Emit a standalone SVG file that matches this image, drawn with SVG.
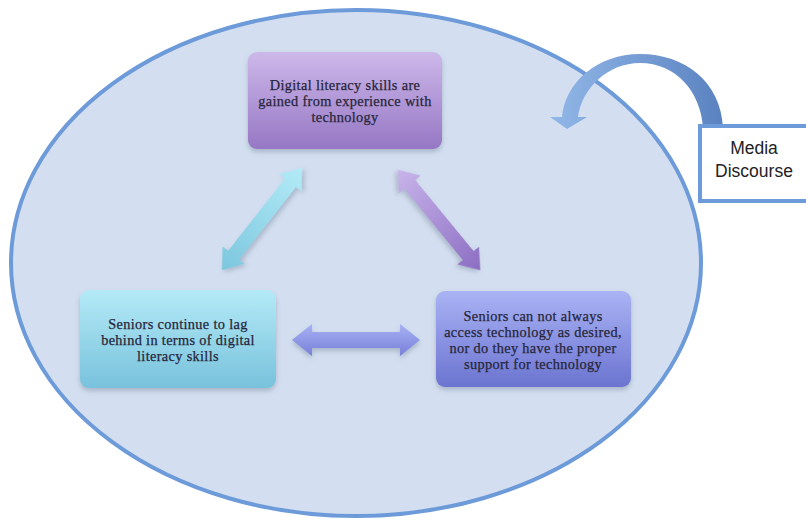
<svg xmlns="http://www.w3.org/2000/svg" width="806" height="521" viewBox="0 0 806 521">
  <defs>
    <linearGradient id="gTop" x1="0" y1="0" x2="0" y2="1">
      <stop offset="0" stop-color="#cdb8ea"/>
      <stop offset="1" stop-color="#9677c4"/>
    </linearGradient>
    <linearGradient id="gLeft" x1="0" y1="0" x2="0" y2="1">
      <stop offset="0" stop-color="#b4eaf7"/>
      <stop offset="1" stop-color="#78c2dc"/>
    </linearGradient>
    <linearGradient id="gRight" x1="0" y1="0" x2="0" y2="1">
      <stop offset="0" stop-color="#aab3f4"/>
      <stop offset="1" stop-color="#6b74d0"/>
    </linearGradient>
    <linearGradient id="gCyanArrow" x1="0" y1="0" x2="1" y2="0">
      <stop offset="0" stop-color="#7cc6de"/>
      <stop offset="1" stop-color="#b3ebf7"/>
    </linearGradient>
    <linearGradient id="gPurpleArrow" x1="0" y1="0" x2="1" y2="0">
      <stop offset="0" stop-color="#c8b4ea"/>
      <stop offset="1" stop-color="#8c6ec2"/>
    </linearGradient>
    <linearGradient id="gHArrow" x1="0" y1="0" x2="0" y2="1">
      <stop offset="0" stop-color="#a9b1f4"/>
      <stop offset="1" stop-color="#7680d8"/>
    </linearGradient>
    <linearGradient id="gCurve" x1="0" y1="0" x2="1" y2="0">
      <stop offset="0" stop-color="#92b8e8"/>
      <stop offset="1" stop-color="#5a82c0"/>
    </linearGradient>
    <filter id="shadow" x="-10%" y="-10%" width="120%" height="130%">
      <feDropShadow dx="0" dy="3" stdDeviation="2.5" flood-color="#5a6680" flood-opacity="0.35"/>
    </filter>
  </defs>
  <style>
    .node-text { font-family: "Liberation Serif", "DejaVu Serif", serif; font-size: 14.3px; letter-spacing: 0.35px; fill: #26263a; stroke: #26263a; stroke-width: 0.25; text-anchor: middle; }
    .media-text { font-family: "Liberation Sans", "DejaVu Sans", sans-serif; font-size: 17.5px; fill: #222222; text-anchor: middle; }
    .box { filter: url(#shadow); }
  </style>
  <rect width="806" height="521" fill="#ffffff"/>

  <g id="context">
    <ellipse cx="356" cy="263" rx="345" ry="253" fill="#d3dff0" stroke="#6d9ad8" stroke-width="4"/>
  </g>

  <g id="connectors">
    <path transform="translate(262,219) rotate(-51.9)" fill="url(#gCyanArrow)" class="box"
          d="M -65 0 L -46 -14 L -46 -7 L 46 -7 L 46 -14 L 65 0 L 46 14 L 46 7 L -46 7 L -46 14 Z"/>
    <path transform="translate(439,220) rotate(50.6)" fill="url(#gPurpleArrow)" class="box"
          d="M -65 0 L -46 -14 L -46 -7 L 46 -7 L 46 -14 L 65 0 L 46 14 L 46 7 L -46 7 L -46 14 Z"/>
    <path transform="translate(356,340)" fill="url(#gHArrow)" class="box"
          d="M -64 0 L -44 -16 L -44 -8 L 44 -8 L 44 -16 L 64 0 L 44 16 L 44 8 L -44 8 L -44 16 Z"/>
    <path fill="url(#gCurve)"
          d="M 723 128 C 721 82 685 54 640 54 C 598 54 565 82 562 117 L 550 117 L 567 129 L 587 117 L 578 117 C 582 88 608 63 640 63 C 676 63 701 92 703 128 Z"/>
  </g>

  <g id="node-top">
    <rect class="box" x="248" y="52" width="194" height="97" rx="9" fill="url(#gTop)"/>
    <text class="node-text" x="345" y="90">Digital literacy skills are</text>
    <text class="node-text" x="345" y="106">gained from experience with</text>
    <text class="node-text" x="345" y="122">technology</text>
  </g>

  <g id="node-left">
    <rect class="box" x="80" y="290" width="196" height="98" rx="9" fill="url(#gLeft)"/>
    <text class="node-text" x="178" y="329">Seniors continue to lag</text>
    <text class="node-text" x="178" y="345">behind in terms of digital</text>
    <text class="node-text" x="178" y="361">literacy skills</text>
  </g>

  <g id="node-right">
    <rect class="box" x="436" y="291" width="195" height="96" rx="9" fill="url(#gRight)"/>
    <text class="node-text" x="533" y="321">Seniors can not always</text>
    <text class="node-text" x="533" y="337">access technology as desired,</text>
    <text class="node-text" x="533" y="353">nor do they have the proper</text>
    <text class="node-text" x="533" y="369">support for technology</text>
  </g>

  <g id="node-media">
    <rect x="700" y="126" width="112" height="75" fill="#ffffff" stroke="#6d9ad8" stroke-width="4"/>
    <text class="media-text" x="754" y="154">Media</text>
    <text class="media-text" x="754" y="177">Discourse</text>
  </g>
</svg>
